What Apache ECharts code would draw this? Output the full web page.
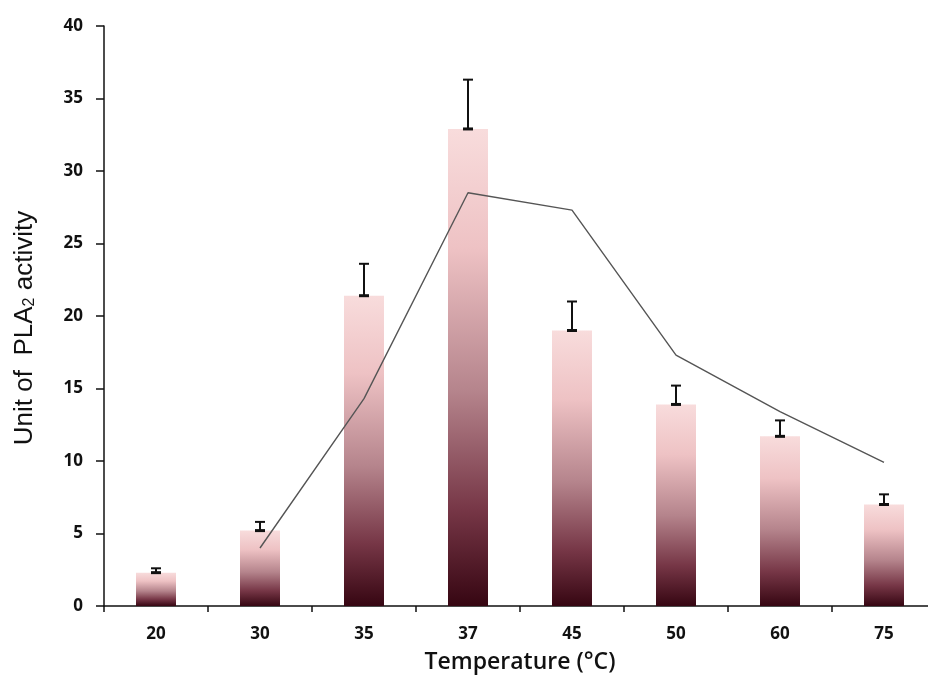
<!DOCTYPE html>
<html>
<head>
<meta charset="utf-8">
<script src="https://cdn.jsdelivr.net/npm/echarts@6/dist/echarts.min.js"></script>
<style>
  html, body { margin: 0; padding: 0; background: #fff; }
  #chart { width: 928px; height: 686px; }
</style>
</head>
<body>
<div id="chart"></div>
<script>
// Temperatures tested (°C)
const temperatures = ['20', '30', '35', '37', '45', '50', '60', '75'];
// Mean PLA2 activity per temperature
const activity = [2.3, 5.2, 21.4, 32.9, 19.0, 13.9, 11.7, 7.0];
// Standard deviation (drawn above each bar)
const errors = [0.3, 0.6, 2.2, 3.4, 2.0, 1.3, 1.1, 0.7];
// Trend line values
const trend = [null, 4.0, 14.3, 28.5, 27.3, 17.3, 13.4, 9.9];
// Y axis ticks
const yTicks = [0, 5, 10, 15, 20, 25, 30, 35, 40];

const chart = echarts.init(document.getElementById('chart'));

const barGradient = new echarts.graphic.LinearGradient(0, 0, 0, 1, [
  { offset: 0, color: '#f8dcdc' },
  { offset: 0.25, color: '#eec2c4' },
  { offset: 0.55, color: '#b5848c' },
  { offset: 0.8, color: '#763646' },
  { offset: 1, color: '#360612' }
]);

chart.setOption({
  animation: false,
  backgroundColor: '#ffffff',
  grid: { left: 104, right: -8, top: 26, bottom: 80, containLabel: false, outerBoundsMode: 'none' },
  xAxis: {
    type: 'category',
    data: temperatures,
    name: 'Temperature (°C)',
    nameLocation: 'middle',
    nameGap: 45,
    nameTextStyle: { fontFamily: 'Open Sans', fontSize: 23, fontWeight: 600, color: '#111' },
    axisLine: { lineStyle: { color: '#111', width: 1.5 } },
    axisTick: { show: true, length: 6, lineStyle: { color: '#111', width: 1.5 } },
    axisLabel: { margin: 20, fontFamily: 'Open Sans', fontSize: 17, fontWeight: 700, color: '#111' }
  },
  yAxis: {
    type: 'value',
    min: yTicks[0],
    max: yTicks[yTicks.length - 1],
    interval: 5,
    // trailing spacer nudges the rotated title slightly downward
    name: '{a|Unit of  PLA}{s|2}{a| activity}{p|}',
    nameLocation: 'middle',
    nameGap: 66,
    nameRotate: 90,
    nameTextStyle: {
      rich: {
        a: { fontFamily: 'Liberation Sans', fontSize: 26, color: '#111' },
        s: { fontFamily: 'Liberation Sans', fontSize: 16, color: '#111', verticalAlign: 'bottom', padding: [10, 0, 0, 0] },
        p: { width: 24 }
      }
    },
    axisLine: { show: true, lineStyle: { color: '#111', width: 1.5 } },
    axisTick: { show: true, length: 8, lineStyle: { color: '#111', width: 1.5 } },
    axisLabel: { margin: 21, fontFamily: 'Open Sans', fontSize: 17, fontWeight: 700, color: '#111' },
    splitLine: { show: false }
  },
  series: [
    {
      type: 'bar',
      data: activity,
      barWidth: 40,
      itemStyle: { color: barGradient },
      z: 2
    },
    {
      type: 'line',
      data: trend,
      showSymbol: false,
      symbol: 'none',
      lineStyle: { color: '#555', width: 1.4 },
      z: 3
    },
    {
      type: 'custom',
      data: activity.map((v, i) => [i, v, v + errors[i]]),
      renderItem: function (params, api) {
        const lo = api.coord([api.value(0), api.value(1)]);
        const hi = api.coord([api.value(0), api.value(2)]);
        const x = lo[0];
        const cap = 5;
        const style = { stroke: '#111', lineWidth: 2 };
        return {
          type: 'group',
          children: [
            { type: 'line', shape: { x1: x, y1: lo[1], x2: x, y2: hi[1] }, style: style },
            { type: 'line', shape: { x1: x - cap, y1: hi[1], x2: x + cap, y2: hi[1] }, style: style },
            { type: 'line', shape: { x1: x - cap, y1: lo[1], x2: x + cap, y2: lo[1] }, style: { stroke: '#111', lineWidth: 3 } }
          ]
        };
      },
      z: 4
    }
  ]
});
</script>
</body>
</html>
